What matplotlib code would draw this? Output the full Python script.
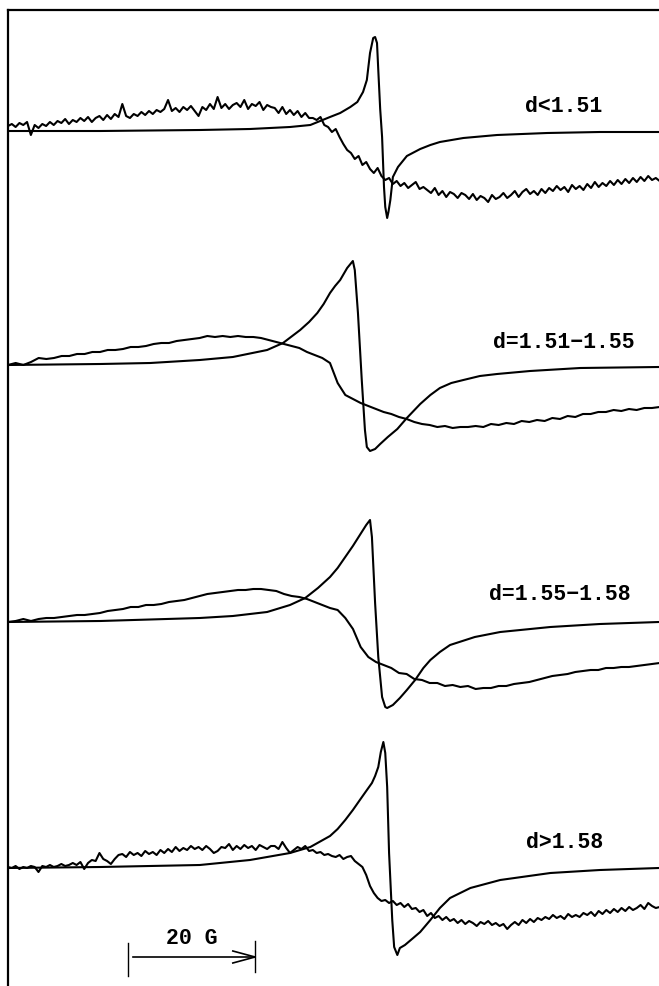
import numpy as np
import matplotlib
matplotlib.use("Agg")
import matplotlib.pyplot as plt

plt.rcParams["font.family"] = ["Liberation Mono", "DejaVu Sans Mono"]

# field in gauss from the left edge, signal in arbitrary units
labels = ["d<1.51", "d=1.51\u22121.55", "d=1.55\u22121.58", "d>1.58"]

sharp1_field = [0.0, 14.5, 30.2, 38.1, 44.4, 47.6, 50.7, 52.3, 53.9, 55.0,
                55.9, 56.5, 57.0, 57.5, 57.8, 58.1, 58.3, 58.6, 58.9, 59.2,
                59.4, 59.7, 59.9, 60.2, 60.6, 61.4, 62.8, 64.9, 66.5, 68.0,
                71.7, 77.0, 84.9, 93.2, 102.5]
sharp1 = [0, 0, 1, 2, 4, 6, 14, 18, 24, 29,
          39, 51, 78, 93, 94, 88, 61, 22, -6, -56,
          -76, -87, -81, -69, -46, -36, -25, -18, -14, -11,
          -7, -4, -2, -1, -1]

sharp2_field = [0.0, 14.5, 22.4, 30.2, 35.4, 40.8, 43.3, 46.0, 47.4, 48.7,
                49.7, 50.7, 51.5, 52.3, 53.4, 54.3, 54.6, 55.1, 55.7, 56.2,
                56.5, 57.0, 57.8, 58.6, 59.8, 61.3, 62.8, 64.9, 66.5, 68.0,
                69.8, 71.7, 74.3, 77.0, 82.2, 90.1, 102.5]
sharp2 = [0, 1, 2, 5, 8, 15, 22, 35, 43, 52,
          61, 72, 79, 85, 97, 104, 95, 52, -15, -65,
          -82, -86, -84, -79, -72, -64, -53, -39, -30, -23,
          -18, -15, -11, -9, -6, -3, -2]

sharp3_field = [0.0, 14.5, 30.2, 35.4, 40.8, 44.4, 46.8, 48.8, 50.7, 51.9,
                53.1, 54.3, 55.4, 56.4, 57.0, 57.3, 57.8, 58.3, 58.9, 59.4,
                59.7, 60.6, 61.7, 62.8, 64.1, 65.4, 66.5, 68.0, 69.6, 73.5,
                77.5, 85.4, 93.2, 102.5]
sharp3 = [0, 1, 4, 6, 10, 17, 24, 34, 45, 54,
          65, 76, 87, 97, 102, 85, 19, -35, -75, -85,
          -86, -83, -76, -68, -58, -46, -38, -30, -23, -15,
          -10, -5, -2, 0]

sharp4_field = [0.0, 14.5, 30.2, 38.1, 44.4, 47.6, 50.7, 51.9, 53.1, 54.3,
                55.4, 56.4, 57.3, 57.8, 58.3, 58.7, 59.1, 59.4, 59.7, 60.0,
                60.5, 60.8, 61.3, 61.7, 62.5, 63.8, 64.9, 66.5, 68.0, 69.6,
                72.8, 77.5, 85.4, 93.2, 102.5]
sharp4 = [0, 1, 3, 8, 15, 21, 32, 39, 48, 58,
          68, 77, 85, 92, 101, 116, 126, 115, 81, 15,
          -52, -79, -87, -80, -77, -70, -64, -52, -40, -30,
          -20, -12, -5, -2, 0]

# broad lines, sampled evenly over 0..102.6 G
broad1 = [5, 7, 4, 8, 6, 9, -4, 6, 3, 7,
          5, 9, 6, 10, 8, 12, 7, 11, 9, 13,
          10, 14, 9, 13, 15, 11, 16, 12, 17, 14,
          27, 15, 13, 17, 15, 19, 16, 20, 17, 21,
          19, 22, 31, 20, 23, 19, 24, 21, 25, 20,
          15, 24, 21, 27, 22, 34, 23, 27, 22, 26,
          28, 24, 31, 22, 27, 25, 29, 21, 26, 24,
          23, 18, 24, 17, 21, 16, 20, 14, 18, 13,
          13, 11, 14, 6, 4, -1, 2, -6, -13, -19,
          -22, -28, -25, -34, -31, -38, -42, -37, -45, -49,
          -47, -53, -50, -55, -52, -57, -54, -51, -58, -56,
          -59, -62, -57, -64, -60, -66, -61, -63, -67, -62,
          -64, -68, -63, -69, -65, -67, -71, -64, -68, -66,
          -62, -67, -64, -60, -66, -61, -58, -63, -60, -64,
          -58, -62, -57, -60, -55, -59, -56, -61, -54, -58,
          -55, -59, -53, -57, -51, -56, -52, -55, -50, -54,
          -49, -53, -48, -52, -47, -51, -46, -50, -45, -49,
          -47, -50]

broad2 = [0, 2, 0, 3, 7, 6, 7, 9, 9, 11,
          11, 13, 13, 15, 15, 16, 18, 18, 19, 21,
          22, 22, 24, 25, 26, 27, 29, 28, 29, 28,
          29, 28, 28, 27, 25, 23, 21, 19, 17, 13,
          10, 7, 2, -18, -30, -34, -38, -41, -44, -47,
          -49, -52, -54, -57, -59, -60, -62, -61, -63, -62,
          -62, -61, -62, -59, -60, -58, -59, -56, -57, -55,
          -56, -53, -54, -51, -52, -49, -49, -47, -47, -45,
          -46, -44, -45, -43, -43, -42]

broad3 = [0, 1, 3, 1, 3, 4, 4, 5, 6, 7,
          7, 8, 9, 11, 12, 13, 15, 15, 17, 17,
          18, 20, 21, 22, 24, 26, 28, 29, 30, 31,
          32, 32, 33, 33, 32, 31, 28, 26, 25, 23,
          20, 17, 14, 12, 4, -7, -25, -35, -40, -43,
          -46, -51, -52, -57, -58, -61, -61, -64, -63, -65,
          -64, -67, -66, -66, -64, -64, -62, -61, -60, -58,
          -56, -54, -53, -52, -50, -49, -48, -48, -46, -46,
          -45, -45, -44, -43, -42, -41]

broad4 = [1, 0, 2, -1, 1, 0, 2, 1, -4, 2,
          1, 3, 1, 2, 4, 2, 3, 5, 3, 6,
          -1, 5, 8, 7, 15, 9, 7, 4, 9, 13,
          14, 11, 16, 13, 15, 12, 17, 14, 16, 13,
          18, 15, 19, 16, 21, 17, 20, 18, 22, 19,
          21, 18, 22, 19, 15, 17, 21, 20, 24, 18,
          22, 19, 23, 20, 22, 18, 23, 21, 19, 22,
          22, 19, 26, 20, 15, 18, 21, 19, 22, 17,
          18, 15, 16, 13, 14, 12, 11, 13, 9, 11,
          12, 7, 4, 1, -7, -18, -25, -30, -33, -32,
          -35, -33, -37, -35, -39, -36, -41, -40, -44, -42,
          -48, -45, -50, -48, -52, -49, -53, -51, -55, -52,
          -56, -53, -55, -58, -54, -56, -53, -57, -55, -58,
          -56, -61, -57, -54, -57, -52, -55, -51, -54, -50,
          -52, -49, -51, -47, -50, -48, -51, -46, -49, -47,
          -49, -45, -47, -44, -48, -43, -46, -42, -45, -41,
          -44, -40, -43, -39, -42, -40, -37, -41, -35, -38,
          -40, -39]

offsets = [855, 621, 364, 118]
label_field = [87.5, 87.5, 86.9, 87.6]
label_rise = [24, 22, 27, 26]

# 20 G scale bar
bar_start = 18.9
bar_len = 20.0
bar_y = 29

fig = plt.figure(figsize=(6.59, 9.86), dpi=100)
ax = fig.add_axes([8 / 659, 0, 651 / 659, 976 / 986])
ax.set_xlim(0, 102.5)
ax.set_ylim(0, 976)

sharp = [(sharp1_field, sharp1), (sharp2_field, sharp2),
         (sharp3_field, sharp3), (sharp4_field, sharp4)]
broad = [broad1, broad2, broad3, broad4]

for i, off in enumerate(offsets):
    fx, fy = sharp[i]
    ax.plot(fx, off + np.array(fy), color="black", lw=1.5, solid_joinstyle="round")
    b = np.array(broad[i])
    bx = np.linspace(0, 102.6, len(b))
    ax.plot(bx, off + b, color="black", lw=1.5, solid_joinstyle="round")
    ax.text(label_field[i], off + label_rise[i], labels[i], ha="center", va="center",
            fontsize=15.5, fontweight="bold")

bar_end = bar_start + bar_len
ax.plot([bar_start, bar_start], [bar_y - 19, bar_y + 14], color="black", lw=1.0)
ax.plot([bar_end, bar_end], [bar_y - 15, bar_y + 16], color="black", lw=1.0)
ax.plot([bar_start + 0.8, bar_end], [bar_y, bar_y], color="black", lw=1.2)
ax.plot([bar_end - 3.5, bar_end, bar_end - 3.5], [bar_y + 6, bar_y, bar_y - 6],
        color="black", lw=1.2)
ax.text(bar_start + bar_len / 2, bar_y + 18, "20 G", ha="center", va="center",
        fontsize=15.5, fontweight="bold")

for s in ["right", "bottom"]:
    ax.spines[s].set_visible(False)
for s in ["left", "top"]:
    ax.spines[s].set_linewidth(1.6)
ax.set_xticks([])
ax.set_yticks([])

fig.savefig("out.png", dpi=100)
